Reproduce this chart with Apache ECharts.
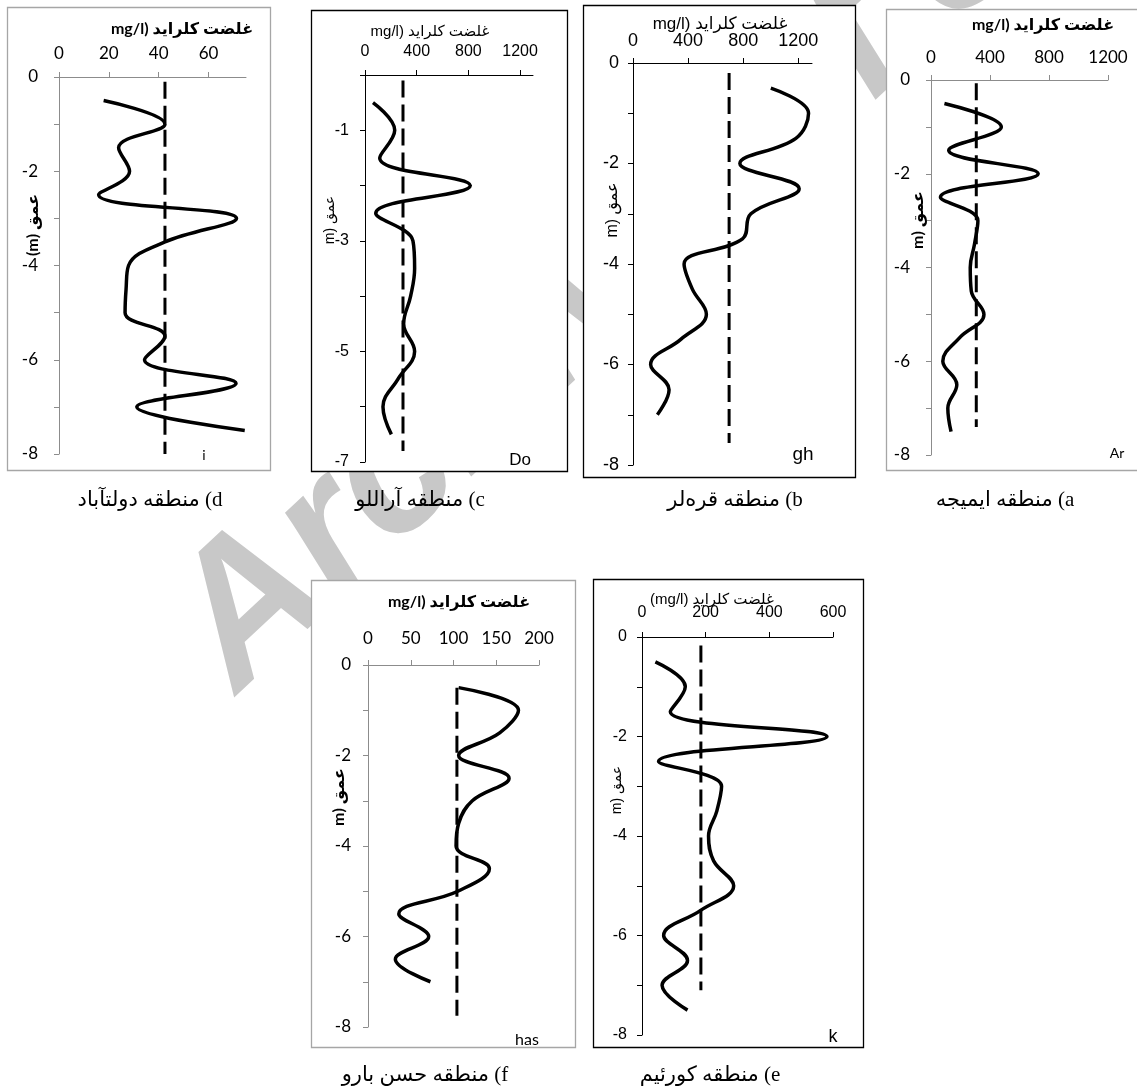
<!DOCTYPE html>
<html><head><meta charset="utf-8">
<script src="https://cdn.jsdelivr.net/npm/echarts@6/dist/echarts.min.js"></script>
<style>html,body{margin:0;padding:0;background:#fff}#c{width:1137px;height:1090px}</style>
</head><body><div id="c"></div>
<script>
// ---------------- DATA ----------------
const depth15 = [-0.5,-1,-1.5,-2,-2.5,-3,-3.5,-4,-4.5,-5,-5.5,-6,-6.5,-7,-7.5];
const depth14 = [-0.5,-1,-1.5,-2,-2.5,-3,-3.5,-4,-4.5,-5,-5.5,-6,-6.5,-7];
const depth13 = [-0.5,-1,-1.5,-2,-2.5,-3,-3.5,-4,-4.5,-5,-5.5,-6,-6.5];

// a) Imijeh (Ar)
const valuesA = [91,477,120,727,64,318,295,266,273,359,193,80,175,114,136];
const meanA = 307; const meanDepthA = [-0.07,-7.4];
// b) Qarahlar (gh)
const valuesB = [1001,1275,1183,776,1207,856,795,371,431,533,347,128,262,177];
const meanB = 698; const meanDepthB = [-0.2,-7.56];
// c) Arallu (Do)
const valuesC = [62,230,114,815,83,371,384,353,299,384,255,139,204];
const meanC = 294; const meanDepthC = [-0.1,-6.8];
// d) Dowlatabad (i)
const valuesD = [17.9,42.5,23.9,28.3,15.9,71.2,42.5,27.9,26.9,26.5,42.5,34.3,71,31.2,74.5];
const meanD = 42.5; const meanDepthD = [-0.1,-8];
// e) Koureim (k)
const valuesE = [42,136,89,581,52,250,235,209,225,288,183,68,143,63,143];
const meanE = 185; const meanDepthE = [-0.17,-7.1];
// f) Hasan Baru (has)
const valuesF = [106,176,154,106,165,122,106,103,142,105,36,71,32,73];
const meanF = 104; const meanDepthF = [-0.5,-7.75];

const xTicksA = [0,400,800,1200];
const xTicksB = [0,400,800,1200];
const xTicksC = [0,400,800,1200];
const xTicksD = [0,20,40,60];
const xTicksE = [0,200,400,600];
const xTicksF = [0,50,100,150,200];
const yLabelsEven = [-8,-6,-4,-2,0];
const yLabelsC = [-7,-5,-3,-1];

const titleRTL = 'غلضت کلراید (mg/l';
const titleE = 'غلضت کلراید (mg/l)';
const yTitle = 'عمق (m';
const yTitleD = 'عمق (m)';
const captionA = 'a) منطقه ایمیجه';
const captionB = 'b) منطقه قره‌لر';
const captionC = 'c) منطقه آراللو';
const captionD = 'd) منطقه دولتآباد';
const captionE = 'e) منطقه کورئیم';
const captionF = 'f) منطقه حسن بارو';
const watermark = 'Archive of SID';

// ---------------- LAYOUT ----------------
const fCal = "Lato, 'DejaVu Sans', sans-serif";
const fAri = "'Liberation Sans', 'DejaVu Sans', sans-serif";
const rtl = s => '\u202B' + s + '\u202C';
const plain = v => String(v);

const panels = [
  {vals: valuesD, dep: depth15, mean: meanD, md: meanDepthD, xmax: 75, xt: xTicksD, ymin: -8, yl: yLabelsEven,
   grid: {left: 59, top: 77, width: 187, height: 377}, gray: true, font: fCal, fs: 17, xm: 15, ym: 21,
   frame: [7, 7, 263, 463], title: [182, 29, titleRTL, 16], ytitle: [33, 225, yTitleD, 16], corner: [204, 455, 'i', 14], cap: [150, 500, captionD]},
  {vals: valuesC, dep: depth13, mean: meanC, md: meanDepthC, xmax: 1300, xt: xTicksC, ymin: -7, yl: yLabelsC,
   grid: {left: 365, top: 75, width: 168, height: 387}, gray: false, font: fAri, fs: 16, xm: 15, ym: 16,
   frame: [311, 10, 256, 461], title: [430, 32, titleRTL, 15], ytitle: [330, 220, yTitle, 14], corner: [520, 460, 'Do', 17], cap: [420, 500, captionC]},
  {vals: valuesB, dep: depth14, mean: meanB, md: meanDepthB, xmax: 1300, xt: xTicksB, ymin: -8, yl: yLabelsEven,
   grid: {left: 633, top: 63, width: 179, height: 402}, gray: false, font: fAri, fs: 18, xm: 13, ym: 14,
   frame: [583, 5, 272, 472], title: [720, 24, titleRTL, 17], ytitle: [613, 210, yTitle, 16], corner: [803, 455, 'gh', 19], cap: [735, 500, captionB]},
  {vals: valuesA, dep: depth15, mean: meanA, md: meanDepthA, xmax: 1200, xt: xTicksA, ymin: -8, yl: yLabelsEven,
   grid: {left: 931, top: 80, width: 177, height: 375}, gray: true, font: fCal, fs: 17, xm: 14, ym: 21,
   frame: [886, 9, 260, 461], title: [1043, 25, titleRTL, 16], ytitle: [918, 220, yTitle, 16], corner: [1117, 453, 'Ar', 14], cap: [1005, 500, captionA]},
  {vals: valuesF, dep: depth14, mean: meanF, md: meanDepthF, xmax: 200, xt: xTicksF, ymin: -8, yl: yLabelsEven,
   grid: {left: 368, top: 665, width: 171, height: 362}, gray: true, font: fCal, fs: 17, xm: 18, ym: 17,
   frame: [311, 580, 264, 467], title: [459, 602, titleRTL, 16], ytitle: [339, 797, yTitle, 16], corner: [527, 1040, 'has', 16], cap: [425, 1075, captionF]},
  {vals: valuesE, dep: depth15, mean: meanE, md: meanDepthE, xmax: 600, xt: xTicksE, ymin: -8, yl: yLabelsEven,
   grid: {left: 642, top: 637, width: 191, height: 398}, gray: false, font: fAri, fs: 16, xm: 16, ym: 15,
   frame: [593, 579, 270, 468], title: [712, 600, titleE, 15], ytitle: [617, 790, yTitle, 14], corner: [833, 1037, 'k', 18], cap: [710, 1075, captionE]}
];

const option = {animation: false, backgroundColor: '#fff', grid: [], xAxis: [], yAxis: [], series: [], graphic: []};

// watermark (behind panels)
option.graphic.push({type: 'text', x: 266, y: 726, rotation: 0.75, z: 1,
  style: {text: watermark, font: "italic bold 190px 'Liberation Sans', sans-serif", fill: '#c8c8c8', align: 'left', verticalAlign: 'bottom'}});

panels.forEach((p, i) => {
  const ac = p.gray ? '#8c8c8c' : '#000';
  option.grid.push(Object.assign({containLabel: false}, p.grid));
  option.xAxis.push({gridIndex: i, type: 'value', position: 'top', min: 0, max: p.xmax, z: 5,
    axisLine: {show: true, onZero: false, lineStyle: {color: ac, width: 1}},
    axisTick: {show: true, length: 5, customValues: p.xt, lineStyle: {color: ac}},
    axisLabel: {customValues: p.xt, formatter: plain, margin: p.xm, fontFamily: p.font, fontSize: p.fs, color: '#000'},
    splitLine: {show: false}});
  option.yAxis.push({gridIndex: i, type: 'value', min: p.ymin, max: 0, interval: 1, z: 5,
    axisLine: {show: true, onZero: false, lineStyle: {color: ac, width: 1}},
    axisTick: {show: true, length: 5, lineStyle: {color: ac}},
    axisLabel: {customValues: p.yl, formatter: plain, margin: p.ym, fontFamily: p.font, fontSize: p.fs, color: '#000'},
    splitLine: {show: false}});
  option.series.push({type: 'line', xAxisIndex: i, yAxisIndex: i, z: 7, smooth: 0.4, symbol: 'none',
    data: p.vals.map((v, k) => [v, p.dep[k]]), lineStyle: {color: '#000', width: 3.5}});
  option.series.push({type: 'line', xAxisIndex: i, yAxisIndex: i, z: 6, symbol: 'none',
    data: [[p.mean, p.md[0]], [p.mean, p.md[1]]], lineStyle: {color: '#000', width: 3, type: [17, 7]}});
  const f = p.frame;
  option.graphic.push({type: 'rect', z: 2, shape: {x: f[0] + 0.5, y: f[1] + 0.5, width: f[2], height: f[3]},
    style: {fill: '#fff', stroke: p.gray ? '#a6a6a6' : '#000', lineWidth: 1.3}});
  const bold = p.gray ? 'bold ' : '';
  option.graphic.push({type: 'text', z: 10, x: p.title[0], y: p.title[1],
    style: {text: rtl(p.title[2]), font: bold + p.title[3] + 'px ' + p.font, fill: '#000', align: 'center', verticalAlign: 'middle'}});
  option.graphic.push({type: 'text', z: 10, x: p.ytitle[0], y: p.ytitle[1], rotation: Math.PI / 2,
    style: {text: rtl(p.ytitle[2]), font: bold + p.ytitle[3] + 'px ' + p.font, fill: '#000', align: 'center', verticalAlign: 'middle'}});
  option.graphic.push({type: 'text', z: 10, x: p.corner[0], y: p.corner[1],
    style: {text: p.corner[2], font: p.corner[3] + 'px ' + p.font, fill: '#000', align: 'center', verticalAlign: 'middle'}});
  option.graphic.push({type: 'text', z: 10, x: p.cap[0], y: p.cap[1],
    style: {text: rtl(p.cap[2]), font: "21px 'Liberation Serif', 'DejaVu Sans', serif", fill: '#000', align: 'center', verticalAlign: 'middle'}});
});

const chart = echarts.init(document.getElementById('c'), null, {renderer: 'canvas'});
chart.setOption(option);
</script>
</body></html>
